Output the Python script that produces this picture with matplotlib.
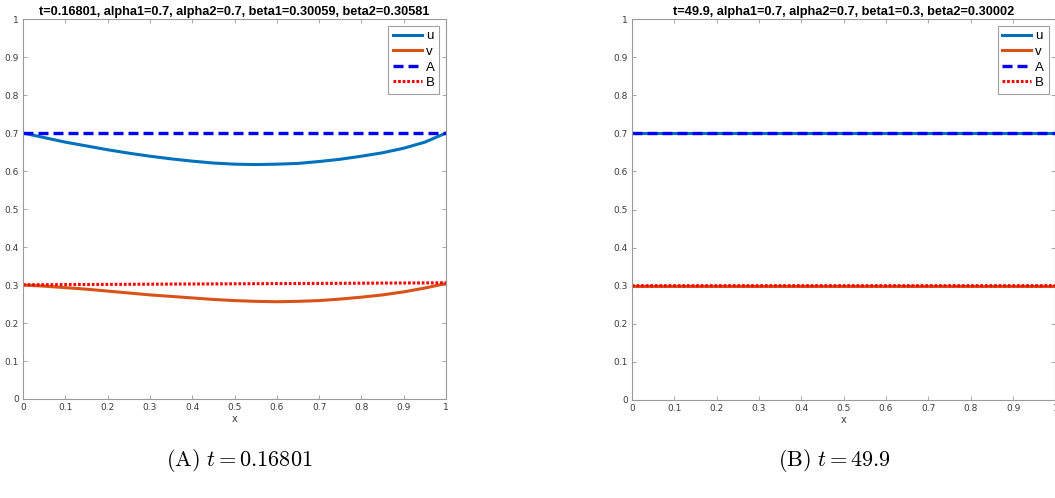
import matplotlib
matplotlib.use("Agg")
import matplotlib.pyplot as plt
import numpy as np

plt.rcParams['mathtext.fontset'] = 'cm'

# values
x_pts = [0, 0.05, 0.1, 0.15, 0.2, 0.25, 0.3, 0.35, 0.4, 0.45, 0.5,
         0.55, 0.6, 0.65, 0.7, 0.75, 0.8, 0.85, 0.9, 0.95, 1.0]
u_a = [0.700, 0.688, 0.676, 0.666, 0.656, 0.647, 0.639, 0.632, 0.626, 0.621, 0.618,
       0.617, 0.618, 0.620, 0.625, 0.631, 0.639, 0.648, 0.660, 0.676, 0.700]
v_a = [0.300, 0.297, 0.293, 0.289, 0.284, 0.279, 0.274, 0.270, 0.266, 0.262, 0.259,
       0.257, 0.256, 0.257, 0.259, 0.263, 0.268, 0.274, 0.282, 0.292, 0.304]
A_a = [0.7, 0.7]
B_a = [0.30059, 0.30581]

u_b = [0.7] * 21
v_b = [0.3] * 21
A_b = [0.7, 0.7]
B_b = [0.3, 0.30002]

titles = ["t=0.16801, alpha1=0.7, alpha2=0.7, beta1=0.30059, beta2=0.30581",
          "t=49.9, alpha1=0.7, alpha2=0.7, beta1=0.3, beta2=0.30002"]
captions = [r"$\mathrm{(A)}\ t = 0.16801$", r"$\mathrm{(B)}\ t = 49.9$"]
ticklabels = ['0', '0.1', '0.2', '0.3', '0.4', '0.5', '0.6', '0.7', '0.8', '0.9', '1']

ucol = '#0072BD'
vcol = '#D95319'
grey = '#9a9a9a'

fig = plt.figure(figsize=(10.55, 4.98), dpi=100)
positions = [[0.0218, 0.1988, 0.401, 0.763], [0.599, 0.1968, 0.4014, 0.765]]
data = [(u_a, v_a, A_a, B_a), (u_b, v_b, A_b, B_b)]
cap_x = [0.2265, 0.7915]

for i in range(2):
    ax = fig.add_axes(positions[i])
    u, v, A, B = data[i]
    ax.plot(x_pts, u, color=ucol, lw=2.2, label='u')
    ax.plot(x_pts, v, color=vcol, lw=2.2, label='v')
    ax.plot([0, 1], A, color='b', lw=2.4, ls=(0, (3, 1.5)), label='A')
    ax.plot([0, 1], B, color='r', lw=2.2, ls=(0, (0.9, 0.6)), label='B')
    ax.set_xlim(0, 1)
    ax.set_ylim(0, 1)
    ax.set_xticks(np.arange(0, 1.01, 0.1))
    ax.set_yticks(np.arange(0, 1.01, 0.1))
    ax.set_xticklabels(ticklabels)
    ax.set_yticklabels(ticklabels)
    ax.tick_params(direction='in', top=True, right=True, length=3, width=0.6,
                   colors='#3a3a3a', labelsize=6.5, pad=3)
    ax.tick_params(color=grey)
    for s in ax.spines.values():
        s.set_color(grey)
        s.set_linewidth(0.8)
    ax.set_xlabel('x', fontsize=7, color='#3a3a3a', labelpad=1)
    ax.set_title(titles[i], fontsize=9.2, fontweight='bold', family='Liberation Sans', pad=3)
    leg = ax.legend(loc='upper right', handlelength=2.2, handletextpad=0.3,
                    labelspacing=0.25, borderpad=0.35, borderaxespad=0.5, fancybox=False,
                    prop={'family': 'Liberation Sans', 'size': 9.5})
    leg.get_frame().set_edgecolor('#8a8a8a')
    leg.get_frame().set_linewidth(0.8)
    fig.text(cap_x[i], 0.075, captions[i], fontsize=16, ha='center', va='center')

fig.savefig('out.png', dpi=100)
